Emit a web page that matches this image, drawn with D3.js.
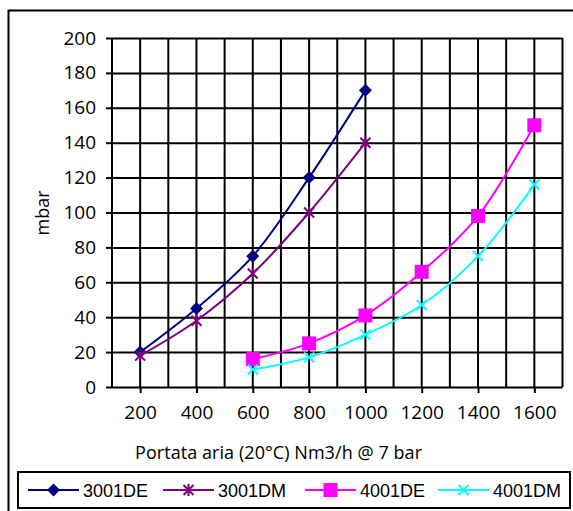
<!DOCTYPE html>
<html lang="it"><head>
<meta charset="utf-8">
<title>mbar vs portata aria</title>
<script src="https://cdn.jsdelivr.net/npm/d3@7"></script>
<style>
  body { margin: 0; background: #fff; }
  svg { display: block; }
</style>
</head>
<body>
<script>
// dati
var seriesNames = ["3001DE", "3001DM", "4001DE", "4001DM"];
var seriesColors = ["#000080", "#800080", "#ff00ff", "#00ffff"];
var flow3001 = [200, 400, 600, 800, 1000];
var flow4001 = [600, 800, 1000, 1200, 1400, 1600];
var mbar3001DE = [20, 45, 75, 120, 170];
var mbar3001DM = [18, 38, 65, 100, 140];
var mbar4001DE = [16, 25, 41, 66, 98, 150];
var mbar4001DM = [10, 17, 30, 47, 75, 116];
var xTicks = [200, 400, 600, 800, 1000, 1200, 1400, 1600];
var yTicks = [0, 20, 40, 60, 80, 100, 120, 140, 160, 180, 200];

var w = 573, h = 511;
var plotL = 112, plotR = 562.5, plotT = 38, plotB = 387;

var series = [
  { name: seriesNames[0], color: seriesColors[0], marker: "diamond", x: flow3001, y: mbar3001DE },
  { name: seriesNames[1], color: seriesColors[1], marker: "star",    x: flow3001, y: mbar3001DM },
  { name: seriesNames[2], color: seriesColors[2], marker: "square",  x: flow4001, y: mbar4001DE },
  { name: seriesNames[3], color: seriesColors[3], marker: "cross",   x: flow4001, y: mbar4001DM }
];

var svg = d3.select("body").append("svg")
  .attr("width", w)
  .attr("height", h);

// cornice esterna
svg.append("rect")
  .attr("x", 8.5).attr("y", 10.5)
  .attr("width", 620).attr("height", 620)
  .attr("fill", "none").attr("stroke", "#000").attr("stroke-width", 2);

var x = d3.scaleLinear().domain([100, 1700]).range([plotL, plotR]);
var y = d3.scaleLinear().domain([0, 200]).range([plotB, plotT]);

// griglia verticale ogni 100
var grid = svg.append("g");
grid.selectAll("line")
  .data(d3.range(100, 1701, 100))
  .enter().append("line")
  .attr("x1", function(d) { return x(d); })
  .attr("x2", function(d) { return x(d); })
  .attr("y1", plotT).attr("y2", plotB)
  .attr("stroke", "#000").attr("stroke-width", 2);

// asse y con griglia orizzontale
var yAxis = svg.append("g")
  .attr("transform", "translate(" + plotL + ",0)")
  .call(d3.axisLeft(y).tickValues(yTicks).tickFormat(d3.format("d")).tickSize(6).tickPadding(10));
yAxis.select(".domain").remove();
yAxis.selectAll(".tick line").attr("stroke", "#000").attr("stroke-width", 2);
yAxis.selectAll(".tick").append("line")
  .attr("x1", 0).attr("x2", plotR - plotL)
  .attr("stroke", "#000").attr("stroke-width", 2);
yAxis.selectAll("text")
  .attr("font-family", "'Open Sans', sans-serif")
  .attr("font-size", "19px")
  .attr("fill", "#000");

// asse x
var xAxis = svg.append("g")
  .attr("transform", "translate(0," + plotB + ")")
  .call(d3.axisBottom(x).tickValues(xTicks).tickFormat(d3.format("d")).tickSize(6).tickPadding(13));
xAxis.select(".domain").remove();
xAxis.selectAll(".tick line").attr("stroke", "#000").attr("stroke-width", 2);
xAxis.selectAll("text")
  .attr("font-family", "'Open Sans', sans-serif")
  .attr("font-size", "19px")
  .attr("fill", "#000");

// titoli assi
svg.append("text")
  .attr("transform", "translate(49,213) rotate(-90)")
  .attr("text-anchor", "middle")
  .attr("font-family", "'Open Sans', sans-serif")
  .attr("font-size", "18px")
  .text("mbar");

svg.append("text")
  .attr("x", 135).attr("y", 459)
  .attr("textLength", 287)
  .attr("lengthAdjust", "spacing")
  .attr("font-family", "'Open Sans', sans-serif")
  .attr("font-size", "18px")
  .text("Portata aria (20°C) Nm3/h @ 7 bar");

// simboli
function drawMarker(g, type, color, cx, cy) {
  if (type === "diamond") {
    g.append("path")
      .attr("d", "M" + cx + "," + (cy - 6.5) + "L" + (cx + 6.5) + "," + cy +
                 "L" + cx + "," + (cy + 6.5) + "L" + (cx - 6.5) + "," + cy + "Z")
      .attr("fill", color);
  } else if (type === "square") {
    g.append("rect")
      .attr("x", cx - 7).attr("y", cy - 7)
      .attr("width", 14).attr("height", 14)
      .attr("fill", color);
  } else if (type === "star") {
    g.append("path")
      .attr("d", "M" + (cx - 5) + "," + (cy - 5) + "L" + (cx + 5) + "," + (cy + 5) +
                 "M" + (cx + 5) + "," + (cy - 5) + "L" + (cx - 5) + "," + (cy + 5) +
                 "M" + cx + "," + (cy - 6) + "L" + cx + "," + (cy + 6))
      .attr("stroke", color).attr("stroke-width", 2).attr("fill", "none");
  } else {
    g.append("path")
      .attr("d", "M" + (cx - 5) + "," + (cy - 5) + "L" + (cx + 5) + "," + (cy + 5) +
                 "M" + (cx + 5) + "," + (cy - 5) + "L" + (cx - 5) + "," + (cy + 5))
      .attr("stroke", color).attr("stroke-width", 2).attr("fill", "none");
  }
}

var line = d3.line()
  .x(function(d) { return x(d[0]); })
  .y(function(d) { return y(d[1]); })
  .curve(d3.curveCatmullRom.alpha(0.5));

var plot = svg.append("g");
series.forEach(function(s) {
  var pts = d3.zip(s.x, s.y);
  plot.append("path")
    .datum(pts)
    .attr("d", line)
    .attr("fill", "none")
    .attr("stroke", s.color)
    .attr("stroke-width", 2);
  var mg = plot.append("g");
  pts.forEach(function(p) { drawMarker(mg, s.marker, s.color, x(p[0]), y(p[1])); });
});

// legenda
var legX = [28, 163, 305, 438];
svg.append("rect")
  .attr("x", 18).attr("y", 472)
  .attr("width", 552).attr("height", 36)
  .attr("fill", "#fff").attr("stroke", "#000").attr("stroke-width", 2);

var leg = svg.selectAll("g.leg")
  .data(series)
  .enter().append("g")
  .attr("class", "leg")
  .attr("transform", function(d, i) { return "translate(" + legX[i] + ",490)"; });
leg.append("line")
  .attr("x1", 0).attr("x2", 51)
  .attr("stroke", function(d) { return d.color; })
  .attr("stroke-width", 2);
leg.each(function(d) { drawMarker(d3.select(this), d.marker, d.color, 25.5, 0); });
leg.append("text")
  .attr("x", 55).attr("y", 6.5)
  .attr("font-family", "'Liberation Sans', Arial, sans-serif")
  .attr("font-size", "18px")
  .text(function(d) { return d.name; });
</script>
</body></html>
